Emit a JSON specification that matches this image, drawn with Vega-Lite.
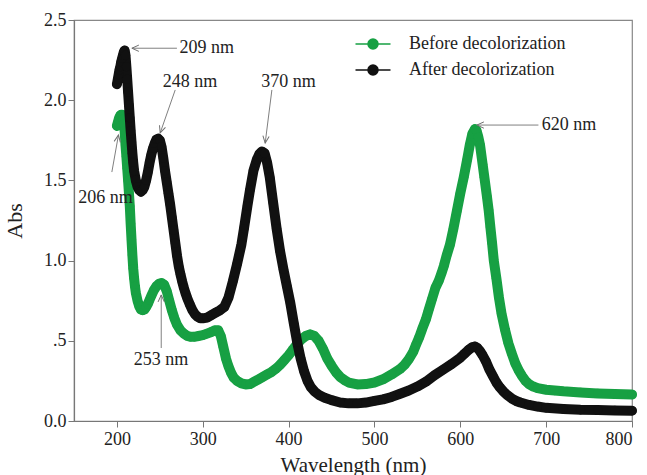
{
  "$schema": "https://vega.github.io/schema/vega-lite/v6.json",
  "width": 558,
  "height": 401,
  "autosize": {"type": "none"},
  "padding": {"left": 74, "top": 20, "right": 15, "bottom": 54},
  "background": "white",
  "config": {
    "font": "Liberation Serif",
    "view": {"stroke": "#888888", "strokeWidth": 1.2},
    "axis": {
      "grid": false,
      "domainColor": "#777777",
      "domainWidth": 1.2,
      "tickColor": "#777777",
      "tickSize": 6,
      "labelColor": "#222222",
      "labelFont": "Liberation Serif",
      "labelFontSize": 18,
      "titleFont": "Liberation Serif",
      "titleFontSize": 21,
      "titleFontWeight": "normal",
      "titleColor": "#222222"
    }
  },
  "datasets": {
    "curves": [
      {"w":200,"a":1.84,"s":"Before decolorization"},{"w":201,"a":1.86,"s":"Before decolorization"},{"w":202,"a":1.88,"s":"Before decolorization"},{"w":203,"a":1.895,"s":"Before decolorization"},{"w":204,"a":1.905,"s":"Before decolorization"},{"w":205,"a":1.91,"s":"Before decolorization"},{"w":206,"a":1.91,"s":"Before decolorization"},{"w":207,"a":1.88,"s":"Before decolorization"},{"w":208,"a":1.85,"s":"Before decolorization"},{"w":209,"a":1.81,"s":"Before decolorization"},{"w":210,"a":1.72,"s":"Before decolorization"},{"w":211,"a":1.65,"s":"Before decolorization"},{"w":212,"a":1.575,"s":"Before decolorization"},{"w":213,"a":1.5,"s":"Before decolorization"},{"w":214,"a":1.42,"s":"Before decolorization"},{"w":215,"a":1.34,"s":"Before decolorization"},{"w":216,"a":1.23,"s":"Before decolorization"},{"w":217,"a":1.13,"s":"Before decolorization"},{"w":218,"a":1.035,"s":"Before decolorization"},{"w":219,"a":0.95,"s":"Before decolorization"},{"w":220,"a":0.89,"s":"Before decolorization"},{"w":221,"a":0.84,"s":"Before decolorization"},{"w":222,"a":0.8,"s":"Before decolorization"},{"w":224,"a":0.75,"s":"Before decolorization"},{"w":226,"a":0.715,"s":"Before decolorization"},{"w":228,"a":0.695,"s":"Before decolorization"},{"w":230,"a":0.69,"s":"Before decolorization"},{"w":232,"a":0.695,"s":"Before decolorization"},{"w":234,"a":0.71,"s":"Before decolorization"},{"w":236,"a":0.73,"s":"Before decolorization"},{"w":238,"a":0.755,"s":"Before decolorization"},{"w":240,"a":0.78,"s":"Before decolorization"},{"w":243,"a":0.815,"s":"Before decolorization"},{"w":246,"a":0.84,"s":"Before decolorization"},{"w":249,"a":0.855,"s":"Before decolorization"},{"w":252,"a":0.86,"s":"Before decolorization"},{"w":255,"a":0.85,"s":"Before decolorization"},{"w":258,"a":0.81,"s":"Before decolorization"},{"w":261,"a":0.75,"s":"Before decolorization"},{"w":264,"a":0.69,"s":"Before decolorization"},{"w":267,"a":0.64,"s":"Before decolorization"},{"w":270,"a":0.6,"s":"Before decolorization"},{"w":274,"a":0.565,"s":"Before decolorization"},{"w":278,"a":0.545,"s":"Before decolorization"},{"w":282,"a":0.53,"s":"Before decolorization"},{"w":286,"a":0.525,"s":"Before decolorization"},{"w":290,"a":0.525,"s":"Before decolorization"},{"w":295,"a":0.53,"s":"Before decolorization"},{"w":300,"a":0.535,"s":"Before decolorization"},{"w":305,"a":0.545,"s":"Before decolorization"},{"w":310,"a":0.555,"s":"Before decolorization"},{"w":314,"a":0.565,"s":"Before decolorization"},{"w":318,"a":0.565,"s":"Before decolorization"},{"w":321,"a":0.53,"s":"Before decolorization"},{"w":324,"a":0.46,"s":"Before decolorization"},{"w":327,"a":0.39,"s":"Before decolorization"},{"w":330,"a":0.34,"s":"Before decolorization"},{"w":333,"a":0.3,"s":"Before decolorization"},{"w":336,"a":0.27,"s":"Before decolorization"},{"w":340,"a":0.25,"s":"Before decolorization"},{"w":345,"a":0.235,"s":"Before decolorization"},{"w":350,"a":0.228,"s":"Before decolorization"},{"w":355,"a":0.23,"s":"Before decolorization"},{"w":360,"a":0.245,"s":"Before decolorization"},{"w":365,"a":0.26,"s":"Before decolorization"},{"w":370,"a":0.275,"s":"Before decolorization"},{"w":375,"a":0.29,"s":"Before decolorization"},{"w":380,"a":0.305,"s":"Before decolorization"},{"w":385,"a":0.325,"s":"Before decolorization"},{"w":390,"a":0.35,"s":"Before decolorization"},{"w":395,"a":0.38,"s":"Before decolorization"},{"w":400,"a":0.41,"s":"Before decolorization"},{"w":405,"a":0.445,"s":"Before decolorization"},{"w":410,"a":0.48,"s":"Before decolorization"},{"w":415,"a":0.51,"s":"Before decolorization"},{"w":420,"a":0.53,"s":"Before decolorization"},{"w":425,"a":0.54,"s":"Before decolorization"},{"w":430,"a":0.53,"s":"Before decolorization"},{"w":435,"a":0.5,"s":"Before decolorization"},{"w":440,"a":0.45,"s":"Before decolorization"},{"w":445,"a":0.39,"s":"Before decolorization"},{"w":450,"a":0.345,"s":"Before decolorization"},{"w":455,"a":0.305,"s":"Before decolorization"},{"w":460,"a":0.275,"s":"Before decolorization"},{"w":465,"a":0.255,"s":"Before decolorization"},{"w":470,"a":0.24,"s":"Before decolorization"},{"w":480,"a":0.228,"s":"Before decolorization"},{"w":490,"a":0.23,"s":"Before decolorization"},{"w":500,"a":0.24,"s":"Before decolorization"},{"w":510,"a":0.26,"s":"Before decolorization"},{"w":520,"a":0.29,"s":"Before decolorization"},{"w":530,"a":0.325,"s":"Before decolorization"},{"w":535,"a":0.35,"s":"Before decolorization"},{"w":540,"a":0.385,"s":"Before decolorization"},{"w":545,"a":0.43,"s":"Before decolorization"},{"w":548,"a":0.47,"s":"Before decolorization"},{"w":552,"a":0.52,"s":"Before decolorization"},{"w":556,"a":0.58,"s":"Before decolorization"},{"w":560,"a":0.635,"s":"Before decolorization"},{"w":563,"a":0.69,"s":"Before decolorization"},{"w":567,"a":0.76,"s":"Before decolorization"},{"w":571,"a":0.83,"s":"Before decolorization"},{"w":575,"a":0.875,"s":"Before decolorization"},{"w":578,"a":0.92,"s":"Before decolorization"},{"w":581,"a":0.97,"s":"Before decolorization"},{"w":584,"a":1.03,"s":"Before decolorization"},{"w":588,"a":1.1,"s":"Before decolorization"},{"w":592,"a":1.2,"s":"Before decolorization"},{"w":596,"a":1.31,"s":"Before decolorization"},{"w":600,"a":1.42,"s":"Before decolorization"},{"w":604,"a":1.52,"s":"Before decolorization"},{"w":608,"a":1.63,"s":"Before decolorization"},{"w":611,"a":1.72,"s":"Before decolorization"},{"w":614,"a":1.79,"s":"Before decolorization"},{"w":617,"a":1.82,"s":"Before decolorization"},{"w":619,"a":1.81,"s":"Before decolorization"},{"w":621,"a":1.77,"s":"Before decolorization"},{"w":623,"a":1.72,"s":"Before decolorization"},{"w":626,"a":1.6,"s":"Before decolorization"},{"w":628,"a":1.52,"s":"Before decolorization"},{"w":631,"a":1.4,"s":"Before decolorization"},{"w":633,"a":1.315,"s":"Before decolorization"},{"w":635,"a":1.21,"s":"Before decolorization"},{"w":637,"a":1.11,"s":"Before decolorization"},{"w":639,"a":1.0,"s":"Before decolorization"},{"w":642,"a":0.89,"s":"Before decolorization"},{"w":645,"a":0.77,"s":"Before decolorization"},{"w":648,"a":0.67,"s":"Before decolorization"},{"w":652,"a":0.57,"s":"Before decolorization"},{"w":656,"a":0.485,"s":"Before decolorization"},{"w":660,"a":0.42,"s":"Before decolorization"},{"w":664,"a":0.36,"s":"Before decolorization"},{"w":668,"a":0.315,"s":"Before decolorization"},{"w":672,"a":0.28,"s":"Before decolorization"},{"w":676,"a":0.25,"s":"Before decolorization"},{"w":680,"a":0.23,"s":"Before decolorization"},{"w":685,"a":0.215,"s":"Before decolorization"},{"w":690,"a":0.205,"s":"Before decolorization"},{"w":700,"a":0.195,"s":"Before decolorization"},{"w":710,"a":0.19,"s":"Before decolorization"},{"w":720,"a":0.185,"s":"Before decolorization"},{"w":740,"a":0.178,"s":"Before decolorization"},{"w":760,"a":0.172,"s":"Before decolorization"},{"w":780,"a":0.168,"s":"Before decolorization"},{"w":800,"a":0.165,"s":"Before decolorization"},
      {"w":200,"a":2.1,"s":"After decolorization"},{"w":201,"a":2.13,"s":"After decolorization"},{"w":202,"a":2.16,"s":"After decolorization"},{"w":203,"a":2.19,"s":"After decolorization"},{"w":204,"a":2.21,"s":"After decolorization"},{"w":205,"a":2.24,"s":"After decolorization"},{"w":206,"a":2.26,"s":"After decolorization"},{"w":207,"a":2.28,"s":"After decolorization"},{"w":208,"a":2.3,"s":"After decolorization"},{"w":209,"a":2.31,"s":"After decolorization"},{"w":210,"a":2.28,"s":"After decolorization"},{"w":211,"a":2.21,"s":"After decolorization"},{"w":212,"a":2.13,"s":"After decolorization"},{"w":213,"a":2.05,"s":"After decolorization"},{"w":214,"a":1.97,"s":"After decolorization"},{"w":215,"a":1.89,"s":"After decolorization"},{"w":216,"a":1.81,"s":"After decolorization"},{"w":217,"a":1.74,"s":"After decolorization"},{"w":218,"a":1.67,"s":"After decolorization"},{"w":219,"a":1.61,"s":"After decolorization"},{"w":220,"a":1.56,"s":"After decolorization"},{"w":222,"a":1.5,"s":"After decolorization"},{"w":224,"a":1.46,"s":"After decolorization"},{"w":226,"a":1.44,"s":"After decolorization"},{"w":228,"a":1.43,"s":"After decolorization"},{"w":230,"a":1.44,"s":"After decolorization"},{"w":232,"a":1.46,"s":"After decolorization"},{"w":234,"a":1.5,"s":"After decolorization"},{"w":236,"a":1.55,"s":"After decolorization"},{"w":238,"a":1.61,"s":"After decolorization"},{"w":240,"a":1.66,"s":"After decolorization"},{"w":242,"a":1.7,"s":"After decolorization"},{"w":244,"a":1.73,"s":"After decolorization"},{"w":246,"a":1.755,"s":"After decolorization"},{"w":248,"a":1.76,"s":"After decolorization"},{"w":250,"a":1.75,"s":"After decolorization"},{"w":252,"a":1.71,"s":"After decolorization"},{"w":254,"a":1.64,"s":"After decolorization"},{"w":256,"a":1.56,"s":"After decolorization"},{"w":258,"a":1.49,"s":"After decolorization"},{"w":260,"a":1.42,"s":"After decolorization"},{"w":262,"a":1.35,"s":"After decolorization"},{"w":264,"a":1.27,"s":"After decolorization"},{"w":266,"a":1.19,"s":"After decolorization"},{"w":268,"a":1.11,"s":"After decolorization"},{"w":270,"a":1.03,"s":"After decolorization"},{"w":272,"a":0.965,"s":"After decolorization"},{"w":274,"a":0.915,"s":"After decolorization"},{"w":276,"a":0.87,"s":"After decolorization"},{"w":278,"a":0.83,"s":"After decolorization"},{"w":280,"a":0.795,"s":"After decolorization"},{"w":282,"a":0.765,"s":"After decolorization"},{"w":285,"a":0.725,"s":"After decolorization"},{"w":288,"a":0.69,"s":"After decolorization"},{"w":291,"a":0.665,"s":"After decolorization"},{"w":294,"a":0.65,"s":"After decolorization"},{"w":297,"a":0.64,"s":"After decolorization"},{"w":300,"a":0.64,"s":"After decolorization"},{"w":305,"a":0.645,"s":"After decolorization"},{"w":310,"a":0.66,"s":"After decolorization"},{"w":315,"a":0.675,"s":"After decolorization"},{"w":320,"a":0.69,"s":"After decolorization"},{"w":325,"a":0.71,"s":"After decolorization"},{"w":330,"a":0.77,"s":"After decolorization"},{"w":335,"a":0.87,"s":"After decolorization"},{"w":340,"a":0.98,"s":"After decolorization"},{"w":345,"a":1.1,"s":"After decolorization"},{"w":348,"a":1.2,"s":"After decolorization"},{"w":352,"a":1.34,"s":"After decolorization"},{"w":355,"a":1.44,"s":"After decolorization"},{"w":359,"a":1.56,"s":"After decolorization"},{"w":363,"a":1.63,"s":"After decolorization"},{"w":366,"a":1.665,"s":"After decolorization"},{"w":369,"a":1.68,"s":"After decolorization"},{"w":372,"a":1.67,"s":"After decolorization"},{"w":375,"a":1.61,"s":"After decolorization"},{"w":378,"a":1.52,"s":"After decolorization"},{"w":382,"a":1.36,"s":"After decolorization"},{"w":386,"a":1.2,"s":"After decolorization"},{"w":390,"a":1.06,"s":"After decolorization"},{"w":394,"a":0.945,"s":"After decolorization"},{"w":398,"a":0.84,"s":"After decolorization"},{"w":402,"a":0.735,"s":"After decolorization"},{"w":406,"a":0.61,"s":"After decolorization"},{"w":410,"a":0.49,"s":"After decolorization"},{"w":414,"a":0.39,"s":"After decolorization"},{"w":418,"a":0.31,"s":"After decolorization"},{"w":422,"a":0.25,"s":"After decolorization"},{"w":426,"a":0.21,"s":"After decolorization"},{"w":430,"a":0.185,"s":"After decolorization"},{"w":436,"a":0.16,"s":"After decolorization"},{"w":442,"a":0.145,"s":"After decolorization"},{"w":450,"a":0.13,"s":"After decolorization"},{"w":460,"a":0.115,"s":"After decolorization"},{"w":470,"a":0.11,"s":"After decolorization"},{"w":480,"a":0.11,"s":"After decolorization"},{"w":490,"a":0.115,"s":"After decolorization"},{"w":500,"a":0.125,"s":"After decolorization"},{"w":510,"a":0.135,"s":"After decolorization"},{"w":520,"a":0.15,"s":"After decolorization"},{"w":530,"a":0.17,"s":"After decolorization"},{"w":540,"a":0.19,"s":"After decolorization"},{"w":550,"a":0.215,"s":"After decolorization"},{"w":560,"a":0.245,"s":"After decolorization"},{"w":570,"a":0.285,"s":"After decolorization"},{"w":580,"a":0.32,"s":"After decolorization"},{"w":590,"a":0.355,"s":"After decolorization"},{"w":600,"a":0.395,"s":"After decolorization"},{"w":605,"a":0.42,"s":"After decolorization"},{"w":610,"a":0.445,"s":"After decolorization"},{"w":614,"a":0.46,"s":"After decolorization"},{"w":617,"a":0.465,"s":"After decolorization"},{"w":620,"a":0.455,"s":"After decolorization"},{"w":623,"a":0.435,"s":"After decolorization"},{"w":626,"a":0.41,"s":"After decolorization"},{"w":630,"a":0.37,"s":"After decolorization"},{"w":634,"a":0.32,"s":"After decolorization"},{"w":638,"a":0.28,"s":"After decolorization"},{"w":642,"a":0.24,"s":"After decolorization"},{"w":646,"a":0.21,"s":"After decolorization"},{"w":650,"a":0.185,"s":"After decolorization"},{"w":655,"a":0.16,"s":"After decolorization"},{"w":660,"a":0.14,"s":"After decolorization"},{"w":665,"a":0.125,"s":"After decolorization"},{"w":670,"a":0.115,"s":"After decolorization"},{"w":680,"a":0.1,"s":"After decolorization"},{"w":690,"a":0.09,"s":"After decolorization"},{"w":700,"a":0.082,"s":"After decolorization"},{"w":720,"a":0.075,"s":"After decolorization"},{"w":740,"a":0.07,"s":"After decolorization"},{"w":760,"a":0.068,"s":"After decolorization"},{"w":780,"a":0.066,"s":"After decolorization"},{"w":800,"a":0.064,"s":"After decolorization"}
    ],
    "notes": [
      {"w":304.6,"a":2.325,"t":"209 nm"},
      {"w":285.1,"a":2.113,"t":"248 nm"},
      {"w":399.9,"a":2.113,"t":"370 nm"},
      {"w":726.6,"a":1.845,"t":"620 nm"},
      {"w":186.7,"a":1.39,"t":"206 nm"},
      {"w":251.3,"a":0.38,"t":"253 nm"}
    ],
    "arrows": [
      {"w":217.4,"a":2.324,"w2":269.9,"a2":2.324,"ang":0},
      {"w":250.4,"a":1.796,"w2":267.9,"a2":2.064,"ang":289},
      {"w":372.7,"a":1.733,"w2":380.5,"a2":2.064,"ang":277},
      {"w":619.3,"a":1.845,"w2":691.0,"a2":1.845,"ang":0},
      {"w":201.8,"a":1.783,"w2":194.1,"a2":1.552,"ang":100},
      {"w":251.6,"a":0.786,"w2":251.6,"a2":0.455,"ang":90}
    ]
  },
  "encoding": {
    "x": {
      "field": "w",
      "type": "quantitative",
      "scale": {"domain": [150, 800], "nice": false, "zero": false},
      "axis": {"values": [200, 300, 400, 500, 600, 700, 800], "title": "Wavelength (nm)", "labelPadding": 3, "titlePadding": 6}
    },
    "y": {
      "field": "a",
      "type": "quantitative",
      "scale": {"domain": [0, 2.5], "nice": false},
      "axis": {
        "values": [0, 0.5, 1, 1.5, 2, 2.5],
        "labelExpr": "datum.value == 0 ? '0.0' : datum.value == 0.5 ? '.5' : format(datum.value, '.1f')",
        "title": "Abs",
        "titleFontSize": 22,
        "labelPadding": 2,
        "titlePadding": 17
      }
    }
  },
  "layer": [
    {
      "data": {"name": "curves"},
      "encoding": {
        "color": {
          "field": "s",
          "type": "nominal",
          "scale": {"domain": ["Before decolorization", "After decolorization"], "range": ["#17a043", "#111111"]},
          "legend": {
            "title": null,
            "orient": "none",
            "legendX": 288,
            "legendY": 13,
            "padding": 0,
            "symbolType": "M-1.75,0L1.75,0M0.5,0A0.5,0.5,0,1,1,-0.5,0A0.5,0.5,0,1,1,0.5,0Z",
            "symbolSize": 400,
            "symbolStrokeWidth": 1.5,
            "symbolOpacity": 1,
            "labelFont": "Liberation Serif",
            "labelFontSize": 18,
            "labelColor": "#222222",
            "labelOffset": 25,
            "rowPadding": 6,
            "encode": {"symbols": {"update": {"fill": {"scale": "color", "field": "value"}, "stroke": {"scale": "color", "field": "value"}}}}
          }
        }
      },
      "layer": [
        {"transform": [{"filter": "datum.s == 'Before decolorization'"}], "mark": {"type": "line", "strokeWidth": 10, "strokeCap": "round", "strokeJoin": "round"}},
        {"transform": [{"filter": "datum.s == 'Before decolorization'"}], "mark": {"type": "point", "filled": true, "size": 85, "opacity": 1}},
        {"transform": [{"filter": "datum.s == 'After decolorization'"}], "mark": {"type": "line", "strokeWidth": 10, "strokeCap": "round", "strokeJoin": "round"}},
        {"transform": [{"filter": "datum.s == 'After decolorization'"}], "mark": {"type": "point", "filled": true, "size": 85, "opacity": 1}}
      ]
    },
    {
      "data": {"name": "arrows"},
      "mark": {"type": "rule", "color": "#808080", "strokeWidth": 1},
      "encoding": {"x2": {"field": "w2"}, "y2": {"field": "a2"}}
    },
    {
      "data": {"name": "arrows"},
      "mark": {"type": "point", "shape": "M1,-0.45L0,0L1,0.45", "filled": false, "stroke": "#707070", "strokeWidth": 1, "size": 196, "opacity": 1},
      "encoding": {"angle": {"field": "ang", "type": "quantitative", "scale": null}}
    },
    {
      "data": {"name": "notes"},
      "mark": {"type": "text", "font": "Liberation Serif", "fontSize": 18, "color": "#222222", "align": "center", "baseline": "middle"},
      "encoding": {"text": {"field": "t", "type": "nominal"}}
    }
  ]
}
